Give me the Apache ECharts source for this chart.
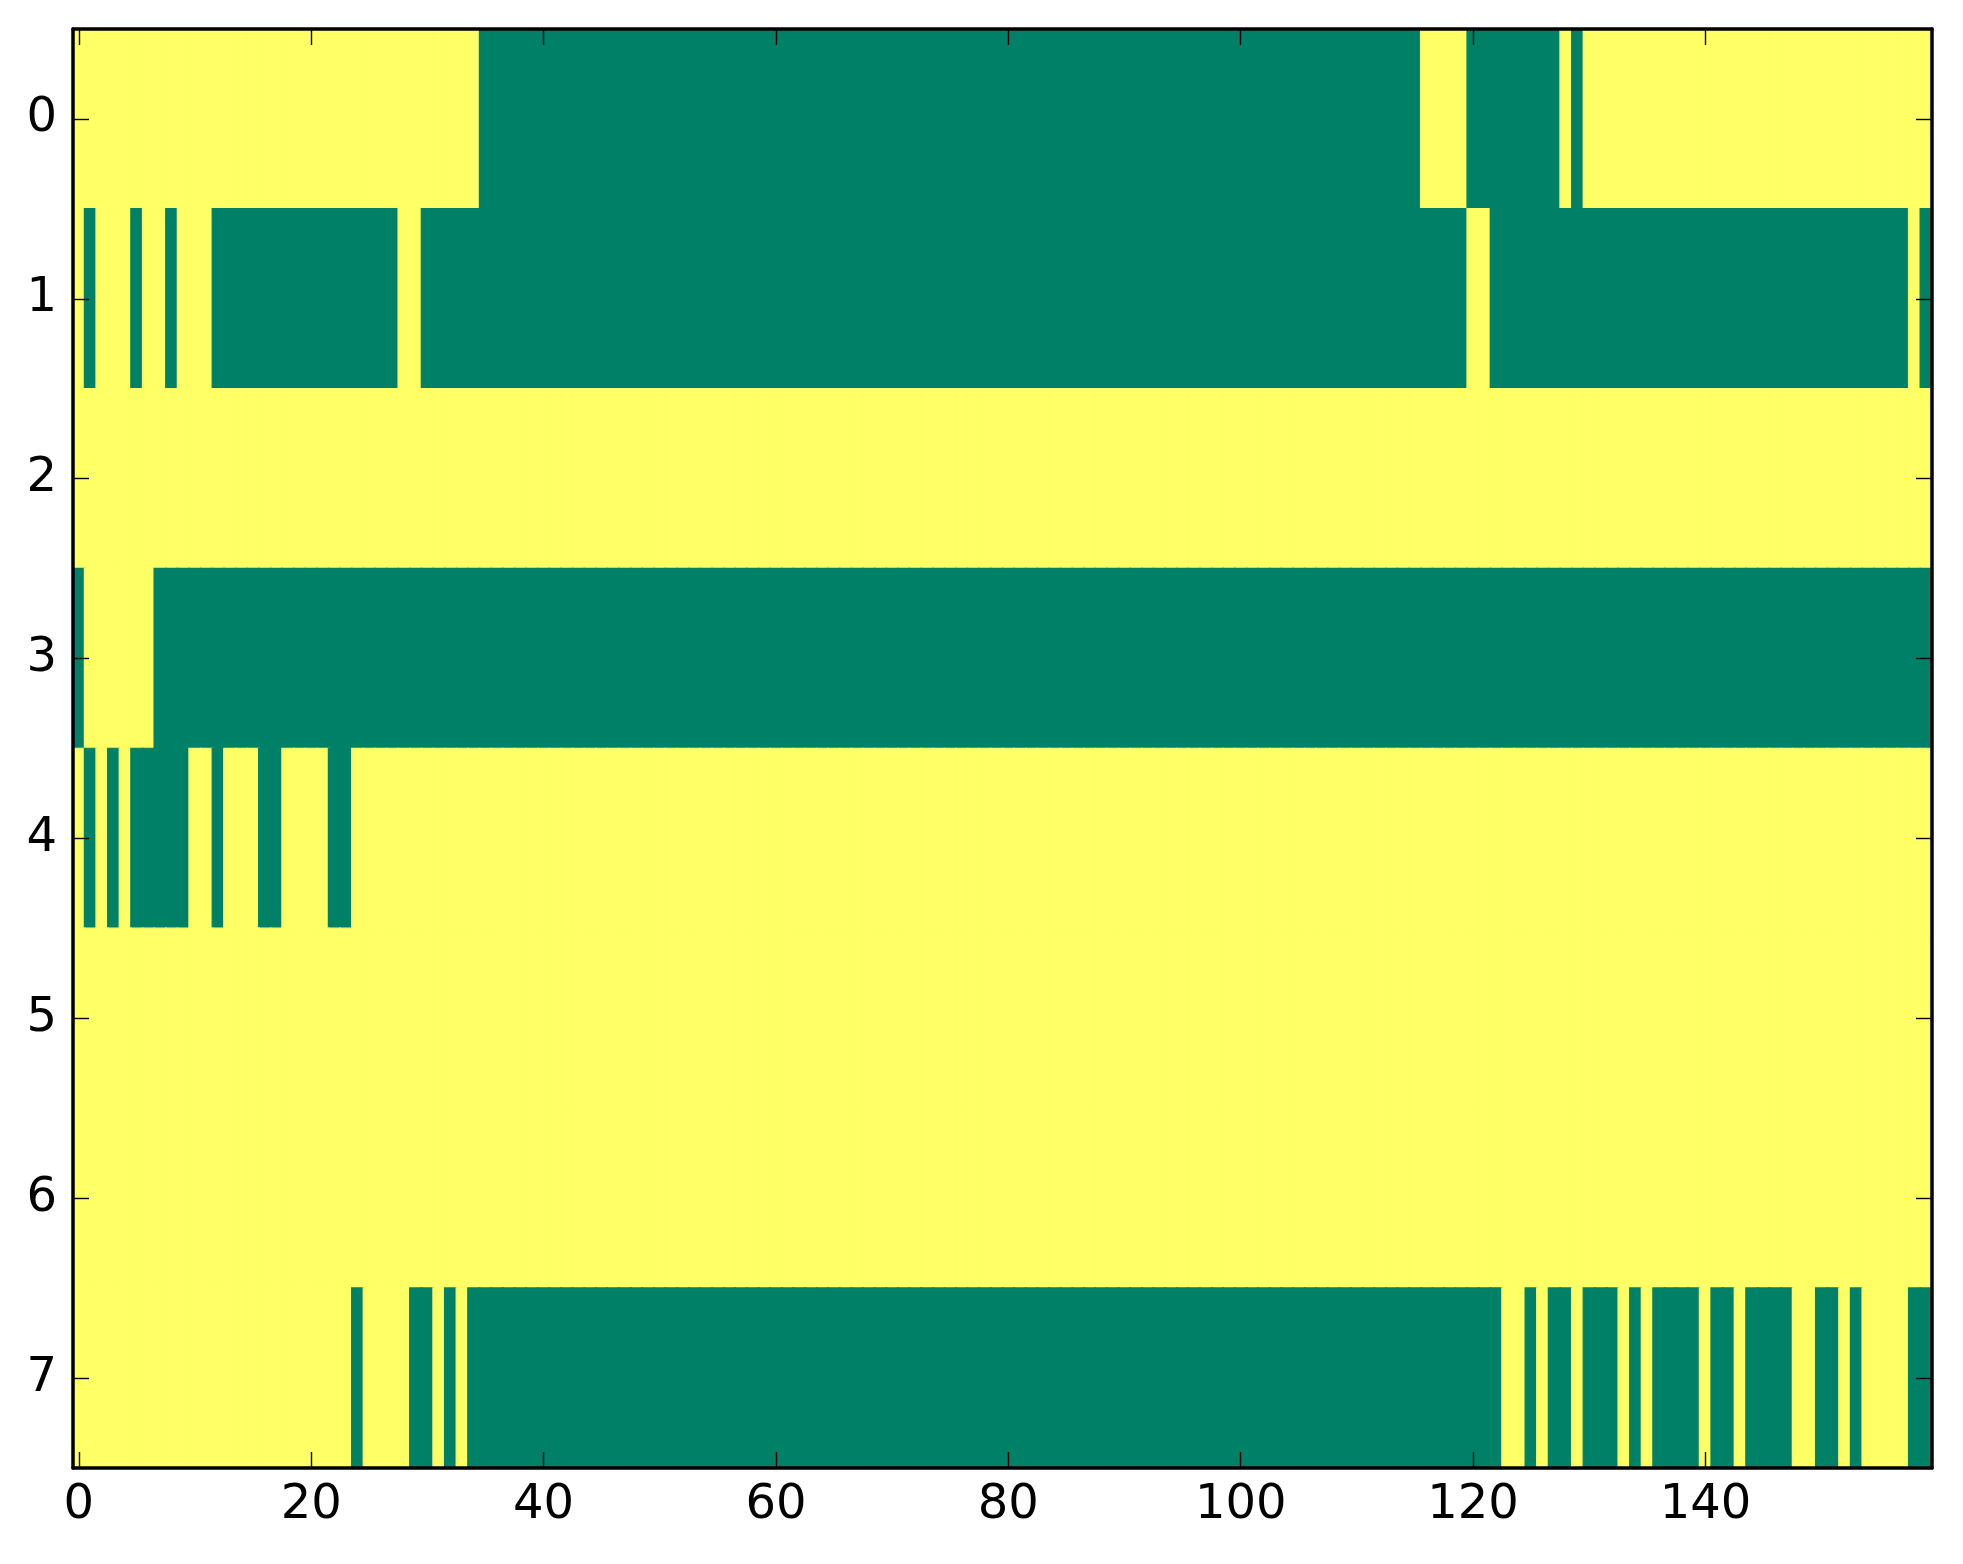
<!DOCTYPE html>
<html>
<head>
<meta charset="utf-8">
<script src="https://cdn.jsdelivr.net/npm/echarts@6/dist/echarts.min.js"></script>
<style>
  html, body { margin: 0; padding: 0; background: #ffffff; }
  #chart { width: 1963px; height: 1564px; }
</style>
</head>
<body>
<div id="chart"></div>
<script>
// Column indices 0..159 and row labels 0..7
const columns = Array.from({ length: 160 }, (_, i) => String(i));
const rows = ['0', '1', '2', '3', '4', '5', '6', '7'];

// Cell values per row, as runs of [value, count] read left to right (1 = yellow, 0 = green)
const row0 = [[1, 35], [0, 81], [1, 4], [0, 8], [1, 1], [0, 1], [1, 30]];
const row1 = [[1, 1], [0, 1], [1, 3], [0, 1], [1, 2], [0, 1], [1, 3], [0, 16], [1, 2], [0, 90], [1, 2], [0, 36], [1, 1], [0, 1]];
const row2 = [[1, 160]];
const row3 = [[0, 1], [1, 6], [0, 153]];
const row4 = [[1, 1], [0, 1], [1, 1], [0, 1], [1, 1], [0, 5], [1, 2], [0, 1], [1, 3], [0, 2], [1, 4], [0, 2], [1, 136]];
const row5 = [[1, 160]];
const row6 = [[1, 160]];
const row7 = [[1, 24], [0, 1], [1, 4], [0, 2], [1, 1], [0, 1], [1, 1], [0, 89], [1, 2], [0, 1], [1, 1], [0, 2], [1, 1], [0, 3], [1, 1], [0, 1], [1, 1], [0, 4], [1, 1], [0, 2], [1, 1], [0, 4], [1, 2], [0, 2], [1, 1], [0, 1], [1, 4], [0, 2]];

const palette = { 0: '#008066', 1: '#ffff66' };

const allRows = [row0, row1, row2, row3, row4, row5, row6, row7];
const cells = [];
allRows.forEach((runs, r) => {
  let c = 0;
  runs.forEach(([v, n]) => {
    for (let k = 0; k < n; k++) {
      cells.push({
        value: [c, r, v],
        itemStyle: { color: palette[v], borderColor: palette[v], borderWidth: 1.2 }
      });
      c++;
    }
  });
});

const chart = echarts.init(document.getElementById('chart'), null, { renderer: 'canvas' });

const labelFont = { fontFamily: 'DejaVu Sans', fontSize: 48, color: '#000000' };
const axisLine = { show: true, onZero: false, lineStyle: { color: '#000000', width: 3.5 } };
const tickStyle = { color: '#000000', width: 1.4 };
const every20 = (idx) => idx % 20 === 0;

chart.setOption({
  animation: false,
  backgroundColor: '#ffffff',
  grid: { left: 73, right: 31, top: 29, bottom: 96, containLabel: false },
  xAxis: [
    {
      type: 'category', data: columns, position: 'bottom', zlevel: 1, z: 10,
      axisLine: axisLine,
      axisTick: { show: true, inside: true, length: 16, alignWithLabel: true, interval: every20, lineStyle: tickStyle },
      axisLabel: Object.assign({ interval: every20, margin: 14 }, labelFont),
      splitLine: { show: false }
    },
    {
      type: 'category', data: columns, position: 'top', zlevel: 1, z: 10,
      axisLine: axisLine,
      axisTick: { show: true, inside: true, length: 16, alignWithLabel: true, interval: every20, lineStyle: tickStyle },
      axisLabel: { show: false },
      splitLine: { show: false }
    }
  ],
  yAxis: [
    {
      type: 'category', data: rows, inverse: true, position: 'left', zlevel: 1, z: 10,
      axisLine: axisLine,
      axisTick: { show: true, inside: true, length: 16, alignWithLabel: true, interval: 0, lineStyle: tickStyle },
      axisLabel: Object.assign({ interval: 0, margin: 16 }, labelFont),
      splitLine: { show: false }
    },
    {
      type: 'category', data: rows, inverse: true, position: 'right', zlevel: 1, z: 10,
      axisLine: axisLine,
      axisTick: { show: true, inside: true, length: 16, alignWithLabel: true, interval: 0, lineStyle: tickStyle },
      axisLabel: { show: false },
      splitLine: { show: false }
    }
  ],
  series: [{
    type: 'heatmap',
    xAxisIndex: 0,
    yAxisIndex: 0,
    zlevel: 0,
    data: cells,
    emphasis: { disabled: true },
    progressive: 0
  }]
});
</script>
</body>
</html>
